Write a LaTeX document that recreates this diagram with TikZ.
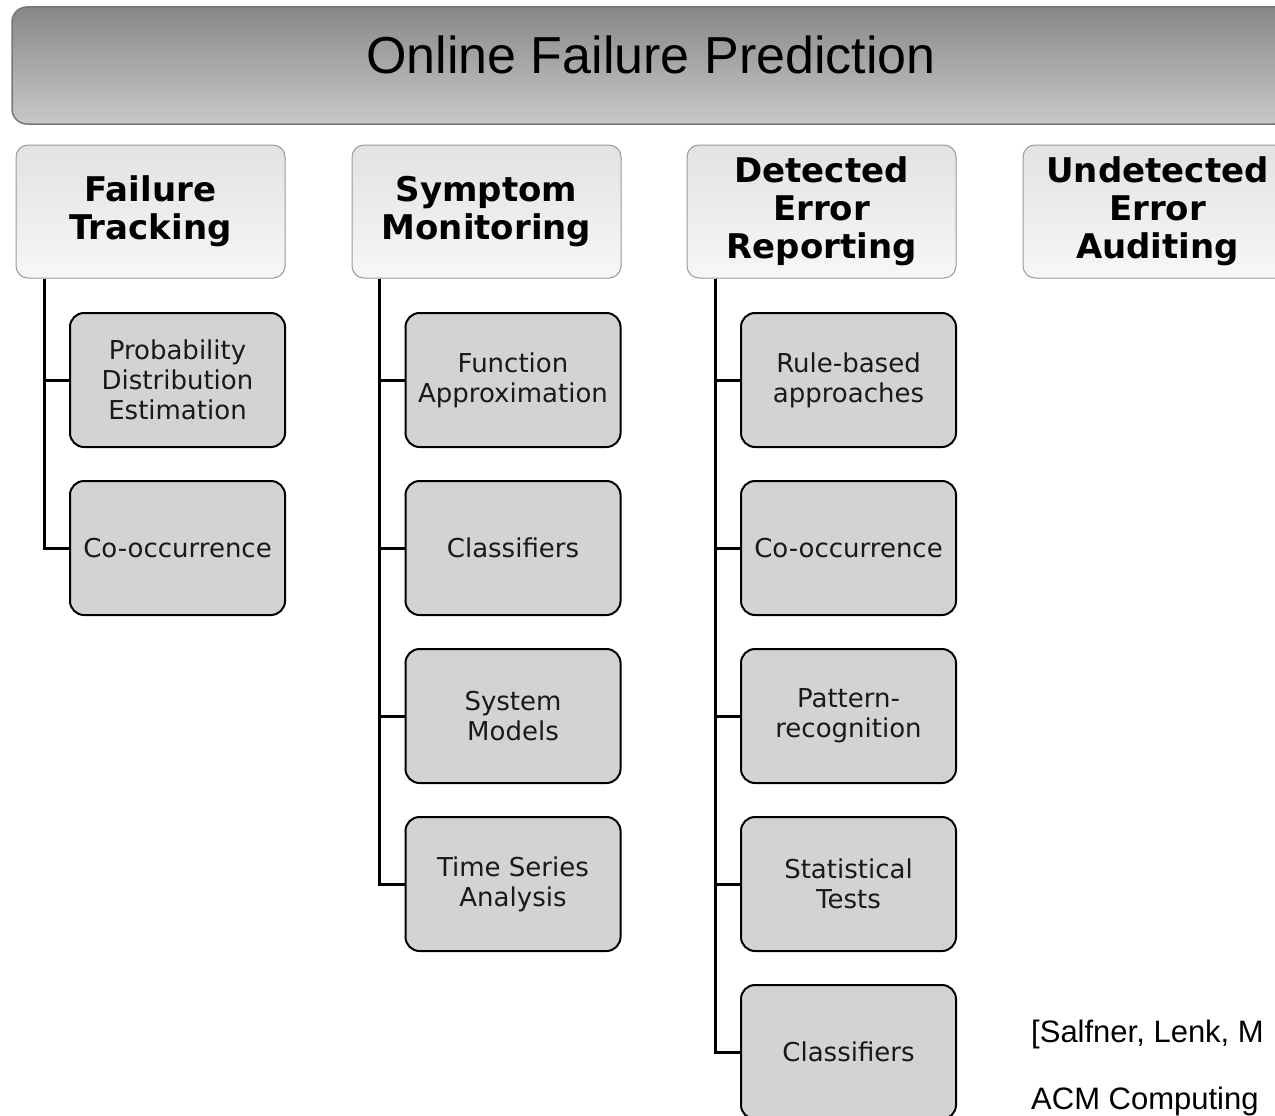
\documentclass[tikz,border=0pt]{standalone}
\usepackage{fontspec}
\setmainfont{DejaVu Sans}
\newfontfamily\arialfont{Liberation Sans}
\definecolor{titletop}{HTML}{888888}
\definecolor{titlebot}{HTML}{C8C8C8}
\definecolor{titleborder}{HTML}{777777}
\definecolor{cattop}{HTML}{E2E2E2}
\definecolor{catbot}{HTML}{F7F7F7}
\definecolor{catborder}{HTML}{9A9A9A}
\definecolor{leaffill}{HTML}{D3D3D3}
\begin{document}
\begin{tikzpicture}[x=1pt,y=-1pt,
  titlebox/.style={draw=titleborder, line width=1.5pt, rounded corners=15pt,
    top color=titletop, bottom color=titlebot, minimum width=1278, minimum height=117, inner sep=0pt},
  titletext/.style={font=\arialfont\fontsize{52}{60}\selectfont, inner sep=0pt},
  catbox/.style={draw=catborder, line width=1pt, rounded corners=12pt,
    top color=cattop, bottom color=catbot, minimum width=269, minimum height=133,
    align=center, font=\bfseries\fontsize{34}{38}\selectfont, inner sep=0pt},
  leafbox/.style={draw=black, line width=2pt, rounded corners=14pt, fill=leaffill,
    minimum width=215, minimum height=134, align=center,
    font=\fontsize{26}{30}\selectfont, inner sep=0pt, text=black!90},
  conn/.style={line width=3pt, black},
  cite/.style={font=\arialfont\fontsize{31}{36}\selectfont, inner sep=0pt, anchor=base west}]
\useasboundingbox (0,0) rectangle (1275,1116);
\clip (0,0) rectangle (1275,1116);
\fill[white] (0,0) rectangle (1275,1116);

% title
\node[titlebox] (title) at (651,65.5) {};
\node[titletext] (titlelbl) at (651,55) {Online Failure Prediction};

% categories
\node[catbox] (ft)  at (150.5,211.5) {Failure\\Tracking};
\node[catbox] (sm)  at (486.5,211.5) {Symptom\\Monitoring};
\node[catbox] (der) at (821.5,211.5) {Detected\\Error\\Reporting};
\node[catbox] (uea) at (1157.5,211.5) {Undetected\\Error\\Auditing};

% leaves: failure tracking
\node[leafbox] (ft1) at (177.5,380) {Probability\\Distribution\\Estimation};
\node[leafbox] (ft2) at (177.5,548) {Co-occurrence};

% leaves: symptom monitoring
\node[leafbox] (sm1) at (513,380) {Function\\Approximation};
\node[leafbox] (sm2) at (513,548) {Classifiers};
\node[leafbox] (sm3) at (513,716) {System\\Models};
\node[leafbox] (sm4) at (513,884) {Time Series\\Analysis};

% leaves: detected error reporting
\node[leafbox] (der1) at (848.5,380) {Rule-based\\approaches};
\node[leafbox] (der2) at (848.5,548) {Co-occurrence};
\node[leafbox] (der3) at (848.5,716) {Pattern-\\recognition};
\node[leafbox] (der4) at (848.5,884) {Statistical\\Tests};
\node[leafbox] (der5) at (848.5,1052) {Classifiers};

% connector spines
\coordinate (ftx) at (44,0);
\coordinate (smx) at (379,0);
\coordinate (derx) at (715,0);

\foreach \c in {ft1,ft2}{\draw[conn] (ft.south -| ftx) |- (\c.west);}
\foreach \c in {sm1,sm2,sm3,sm4}{\draw[conn] (sm.south -| smx) |- (\c.west);}
\foreach \c in {der1,der2,der3,der4,der5}{\draw[conn] (der.south -| derx) |- (\c.west);}

% citation
\node[cite] (cite1) at (1031,1042) {[Salfner, Lenk, M};
\node[cite] (cite2) at (1031,1109) {ACM Computing};
\end{tikzpicture}
\end{document}
